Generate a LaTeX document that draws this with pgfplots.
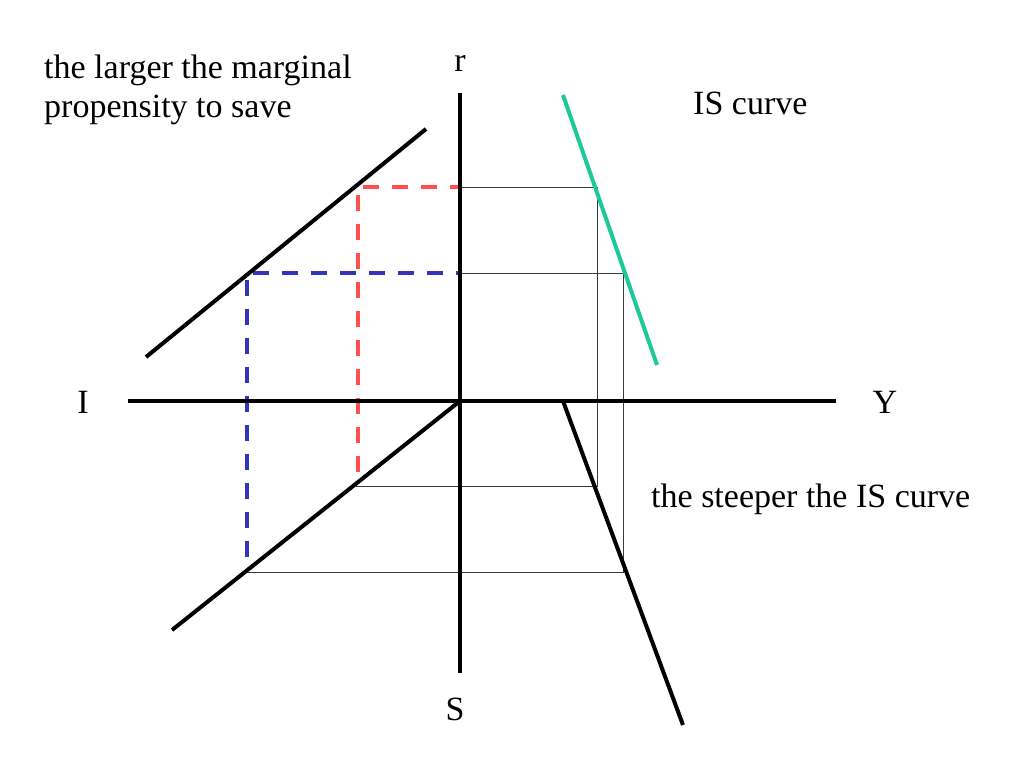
\documentclass[border=0pt]{standalone}
\usepackage{fontspec}
\setmainfont{Liberation Serif}
\usepackage{pgfplots}
\pgfplotsset{compat=1.18}
\definecolor{isgreen}{HTML}{1DC998}
\definecolor{dashred}{HTML}{FF4F4F}
\definecolor{dashblue}{HTML}{3333BB}
\definecolor{thingray}{HTML}{3A3A3A}

\begin{document}
\begin{tikzpicture}
  \begin{axis}[
      scale only axis,
      width=1024bp, height=768bp,
      xmin=0, xmax=1024,
      ymin=0, ymax=768,
      y dir=reverse,
      axis lines=none,
      clip=false,
      every axis plot/.append style={no markers},
    ]
    % thin guide lines
    \addplot[thingray, line width=0.9bp] coordinates {(460,187) (597,187) (597,486) (356,486)};
    \addplot[thingray, line width=0.9bp] coordinates {(460,273) (623,273) (623,572) (245,572)};
    % dashed projections
    \addplot[dashred, line width=4bp, dash pattern=on 16bp off 13bp] coordinates {(358,472) (358,187) (460,187)};
    \addplot[dashblue, line width=4bp, dash pattern=on 16bp off 13bp] coordinates {(247,557) (247,273) (460,273)};
    % axes
    \addplot[black, line width=4.5bp] coordinates {(460,93) (460,673)};
    \addplot[black, line width=4.5bp] coordinates {(128,401) (836,401)};
    % schedules
    \addplot[black, line width=4bp] coordinates {(146,357) (426,129)};
    \addplot[black, line width=4bp] coordinates {(172,630) (460,401)};
    \addplot[black, line width=4bp] coordinates {(563,401) (683,725)};
    \addplot[isgreen, line width=4bp] coordinates {(563,95) (657,365)};

    \begin{scope}[every node/.style={inner sep=0pt, font=\fontsize{34bp}{40bp}\selectfont}]
      \node[anchor=base west] at (axis cs:44,79) {the larger the marginal};
      \node[anchor=base west] at (axis cs:44,118) {propensity to save};
      \node[anchor=base west] at (axis cs:693,115) {IS curve};
      \node[anchor=base west] at (axis cs:651,507) {the steeper the IS curve};
      \node[anchor=base] at (axis cs:460,72) {r};
      \node[anchor=base] at (axis cs:455,720) {S};
      \node[anchor=base] at (axis cs:83,413) {I};
      \node[anchor=base] at (axis cs:885,413) {Y};
    \end{scope}
  \end{axis}
  \pgfresetboundingbox
  \path[use as bounding box] (current axis.south west) rectangle (current axis.north east);
\end{tikzpicture}
\end{document}
